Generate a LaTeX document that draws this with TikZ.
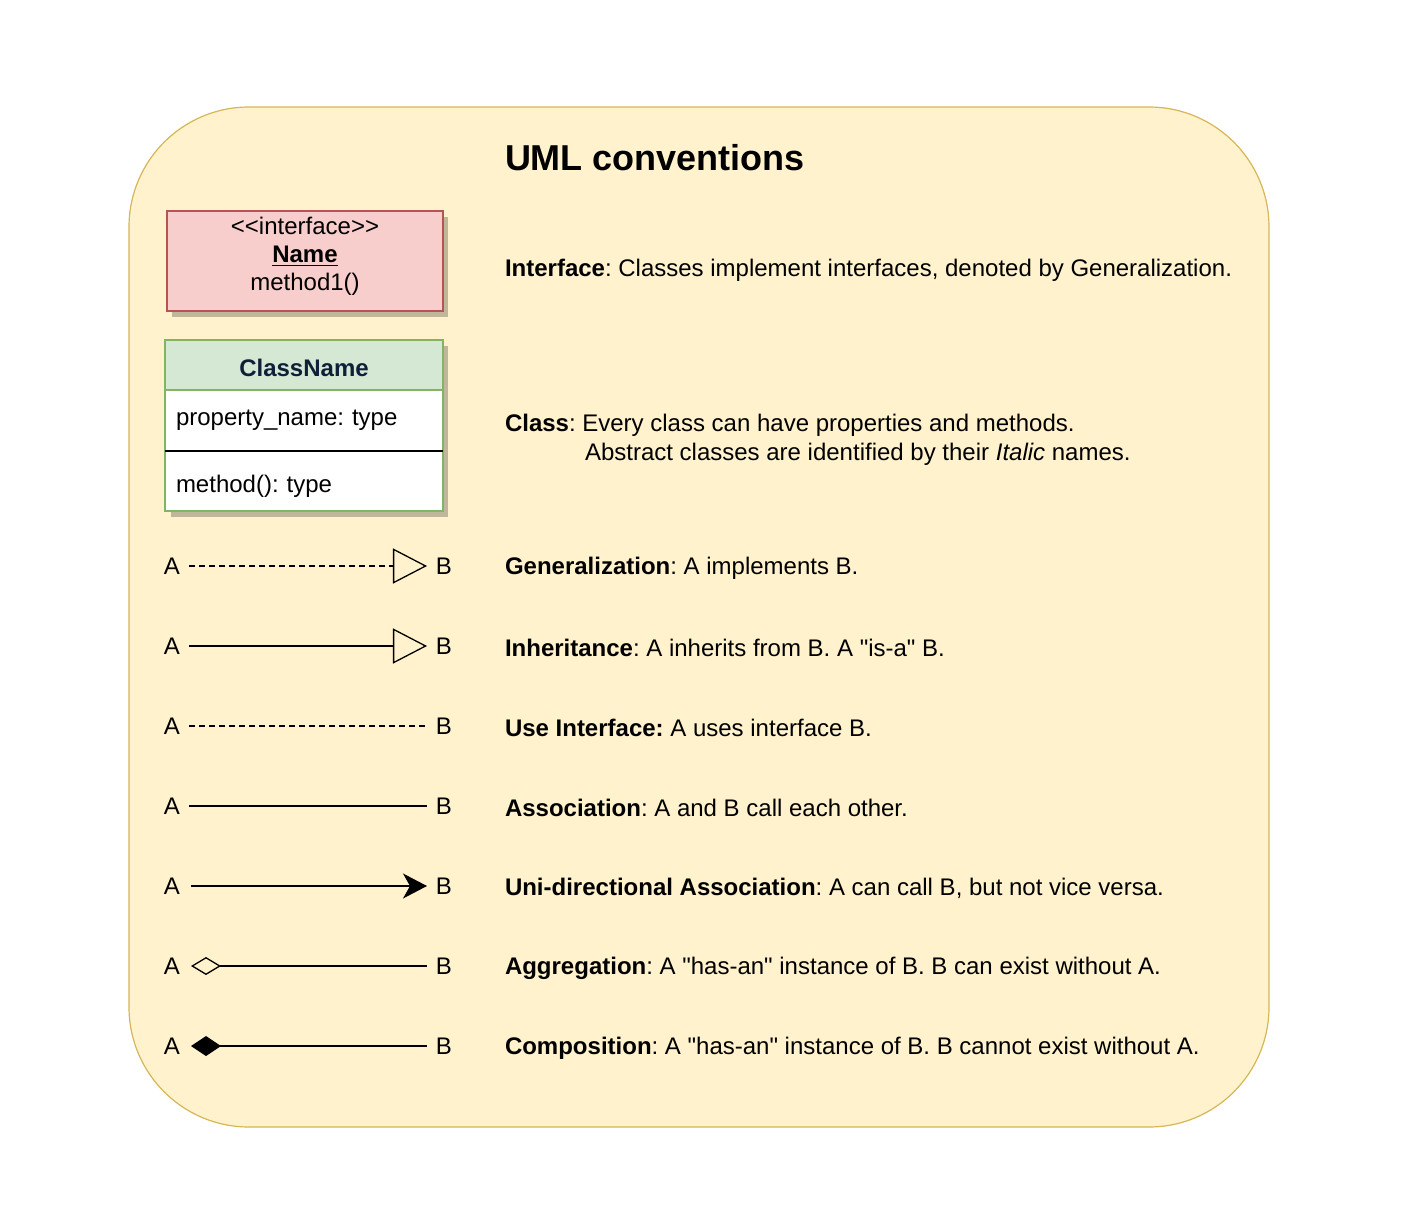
\documentclass[tikz,border=0pt]{standalone}
\usepackage{fontspec}
\newfontfamily\helv{Liberation Sans}
\usetikzlibrary{arrows.meta}
\frenchspacing
\definecolor{bgfill}{HTML}{FFF2CC}
\definecolor{bgline}{HTML}{D6B656}
\definecolor{ifill}{HTML}{F8CECC}
\definecolor{iline}{HTML}{B85450}
\definecolor{cfill}{HTML}{D5E8D4}
\definecolor{cline}{HTML}{82B366}
\definecolor{navy}{HTML}{0F1F38}
\definecolor{shadowc}{HTML}{BFB69B}
\tikzset{
  base/.style={font=\helv\fontsize{12}{14}\selectfont, inner sep=0pt, outer sep=0pt},
  endlabel/.style={base, inner xsep=4.5pt},
  desc/.style={base, anchor=west, yshift=-1pt},
  conn/.style={line width=0.65pt},
  dashconn/.style={conn, dash pattern=on 3pt off 2pt},
  gentip/.style={-{Triangle[open, length=17pt, width=17.5pt]}},
}
\begin{document}
\begin{tikzpicture}[x=0.5pt,y=-0.5pt]
\useasboundingbox (0,0) rectangle (1404,1226);
% panel
\node[draw=bgline, fill=bgfill, line width=0.6pt, rounded corners=60pt,
      minimum width=570pt, minimum height=510pt, base] (panel) at (699,617) {};
\node[base, anchor=west, font=\helv\fontsize{18}{21}\selectfont\bfseries] (title) at (505,158) {UML conventions};
% interface box
\fill[shadowc] (172,217) rectangle (448,317);
\node[base, draw=iline, fill=ifill, line width=0.6pt, minimum width=138pt, minimum height=50pt] (iface) at (305,261) {};
\node[base, align=center, font=\helv\fontsize{12}{14}\selectfont, yshift=2.5pt] (ifacetxt) at (iface.center)
      {<<interface>>\\\underline{\textbf{Name}}\\method1()};
% class box
\fill[shadowc] (171,346) rectangle (448,517);
\node[base, draw=cline, fill=cfill, line width=0.6pt, minimum width=139pt, minimum height=25pt,
      text height=11.6pt, text depth=0pt,
      anchor=north west, text=navy, font=\helv\fontsize{12}{14}\selectfont\bfseries] (chead) at (165,340) {ClassName};
\node[base, draw=cline, fill=white, line width=0.6pt, minimum height=30.5pt, text width=128pt,
      inner xsep=5.5pt, align=left, anchor=north west] (cprop) at (chead.south west) {property\_name: type};
\node[base, draw=cline, fill=white, line width=0.6pt, minimum height=30pt, text width=128pt,
      text height=13.6pt, text depth=2.6pt,
      inner xsep=5.5pt, align=left, anchor=north west] (cmeth) at (cprop.south west) {method(): type};
\draw[line width=0.65pt] (cprop.south west) -- (cprop.south east);
% relation rows
\foreach \n/\y in {1/566,2/646,3/726,4/806,5/886,6/966,7/1046}{
  \node[endlabel] (a\n) at (172,\y) {A};
  \node[endlabel] (b\n) at (444,\y) {B};
}
\draw[dashconn, gentip] (a1.east) -- (b1.west);
\draw[conn, gentip] (a2.east) -- (b2.west);
\draw[dashconn] (a3.east) -- (b3.west);
\draw[conn] (a4.east) -- (b4.west);
\draw[conn, -{Stealth[length=12pt, width=12.5pt, inset=3.5pt]}] ([xshift=1pt]a5.east) -- (b5.west);
\draw[conn, {Diamond[open, length=15pt, width=9pt]}-] ([xshift=1pt]a6.east) -- (b6.west);
\draw[conn, {Diamond[length=15pt, width=10pt]}-] ([xshift=1pt]a7.east) -- (b7.west);
% descriptions
\node[desc] (d0) at (505,268) {\textbf{Interface}: Classes implement interfaces, denoted by Generalization.};
\node[desc, align=left, font=\helv\fontsize{12}{14.5}\selectfont] (d1) at (505,437.5)
  {\textbf{Class}: Every class can have properties and methods.\\\hspace*{40pt}Abstract classes are identified by their \textit{Italic} names.};
\node[desc] (d2) at (505,566) {\textbf{Generalization}: A implements B.};
\node[desc] (d3) at (505,646) {\textbf{Inheritance}: A inherits from B. A "is-a" B.};
\node[desc] (d4) at (505,726) {\textbf{Use Interface:} A uses interface B.};
\node[desc] (d5) at (505,806) {\textbf{Association}: A and B call each other.};
\node[desc] (d6) at (505,886) {\textbf{Uni-directional Association}: A can call B, but not vice versa.};
\node[desc] (d7) at (505,966) {\textbf{Aggregation}: A "has-an" instance of B. B can exist without A.};
\node[desc] (d8) at (505,1046) {\textbf{Composition}: A "has-an" instance of B. B cannot exist without A.};
\end{tikzpicture}
\end{document}
